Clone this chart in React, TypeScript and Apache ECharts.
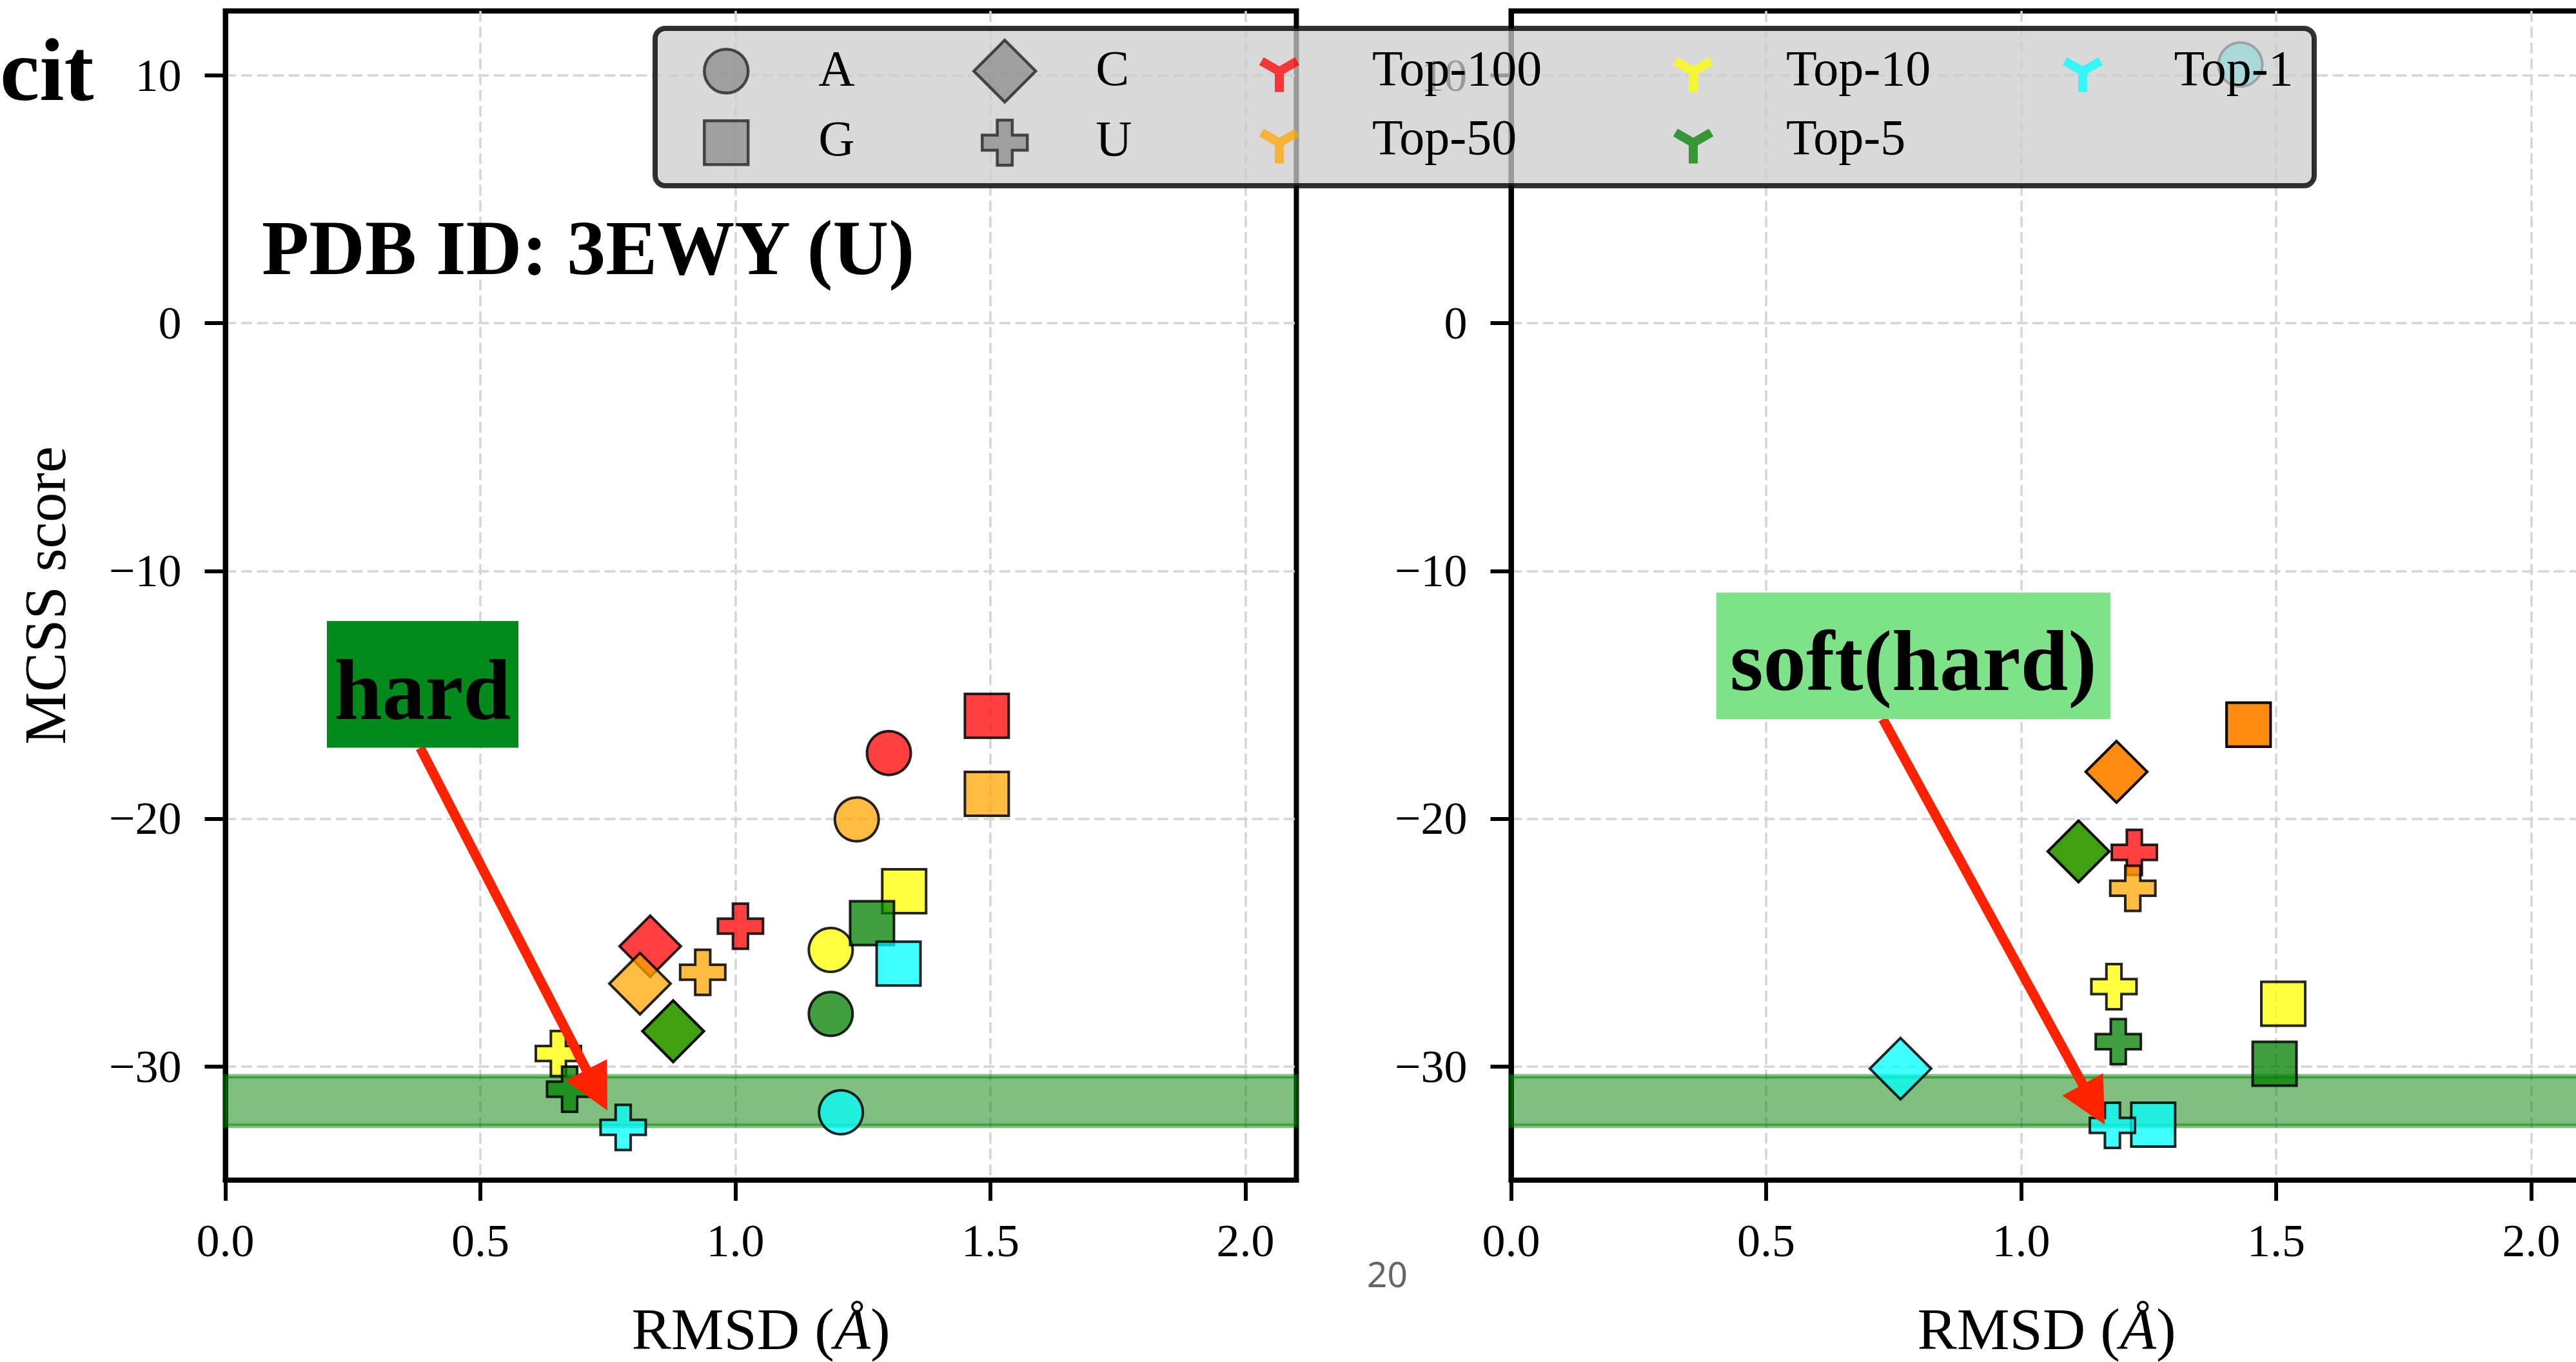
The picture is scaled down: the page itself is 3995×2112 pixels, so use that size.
import React, { useEffect, useRef } from 'react';
import * as echarts from 'echarts';

// ---------------- data ----------------
const BASES = ['A', 'G', 'C', 'U'];
const TOPS = ['Top-100', 'Top-50', 'Top-10', 'Top-5', 'Top-1'];

// Left panel ("hard"): [RMSD, MCSS] for bases A, G, C, U (null = not shown)
const hardTop100 = [[1.301, -17.35], [1.493, -15.85], [0.833, -25.15], [1.01, -24.34]];
const hardTop50 = [[1.238, -20.03], [1.493, -19.0], [0.813, -26.66], [0.936, -26.2]];
const hardTop10 = [[1.187, -25.3], [1.331, -22.93], [0.878, -28.58], [0.653, -29.48]];
const hardTop5 = [[1.187, -27.88], [1.268, -24.22], [0.878, -28.58], [0.675, -30.92]];
const hardTop1 = [[1.207, -31.85], [1.32, -25.85], null, [0.78, -32.46]];

// Right panel ("soft(hard)")
const softTop100 = [null, [1.446, -16.21], [1.187, -18.11], [1.222, -21.36]];
const softTop50 = [null, [1.446, -16.21], [1.187, -18.11], [1.219, -22.81]];
const softTop10 = [null, [1.514, -27.47], [1.1125, -21.32], [1.182, -26.78]];
const softTop5 = [null, [1.497, -29.89], [1.1125, -21.32], [1.1905, -29.0]];
const softTop1 = [[1.43, 10.44], [1.259, -32.35], [0.7635, -30.09], [1.179, -32.38]];

const X_TICKS = [0, 0.5, 1.0, 1.5, 2.0];
const Y_TICKS = [-30, -20, -10, 0, 10];
const X_RANGE = [0, 2.1];
const Y_RANGE = [-34.59, 12.6];
const BAND = [-30.4, -32.4];

const PANEL_TEXT = ['hard', 'soft(hard)'];
// annotation anchors in data coordinates: box [x0, yTop, x1, yBottom], arrow tail, arrow tip
const ANN_BOX = [[0.199, -12.02, 0.5746, -17.14], [0.4021, -10.88, 1.1751, -15.98]];
const ANN_TAIL = [[0.382, -17.14], [0.729, -15.98]];
const ANN_TIP = [[0.749, -31.78], [1.164, -32.35]];

const TITLE = 'PDB ID: 3EWY (U)';

// ---------------- styles ----------------
const SERIF = "'Liberation Serif', 'Times New Roman', Times, serif";
const TOP_COLORS = [
  'rgba(255,0,0,0.75)',
  'rgba(255,165,0,0.75)',
  'rgba(255,255,0,0.75)',
  'rgba(0,128,0,0.75)',
  'rgba(0,255,255,0.75)',
];
const PLUS = 'path://M-1,-3L1,-3L1,-1L3,-1L3,1L1,1L1,3L-1,3L-1,1L-3,1L-3,-1L-1,-1Z';
const BASE_SYMBOL = ['circle', 'rect', 'diamond', PLUS];
const BASE_SIZE = [68, 68, 95, 70];
const ANN_FILL = ['#008a1c', '#7ee288'];
const AXIS_W = 8;

const f2 = (v: number) => v.toFixed(2);
const poly = (pts: number[][], e: number) =>
  'M' + pts.map((q) => f2(q[0]) + ',' + f2(q[1] + e)).join('L') + 'Z';

// legend icon paths; e = empty space added above the visible shape (shifts the shape below the text centre)
function circleIcon(e: number) {
  return { path: `path://M34,0M0,${f2(34 + e)}A34,34 0 1 1 68,${f2(34 + e)}A34,34 0 1 1 0,${f2(34 + e)}Z`, w: 68, h: 68 };
}
function rectIcon(e: number) {
  return { path: 'path://M34,0' + poly([[0, 0], [68, 0], [68, 68], [0, 68]], e), w: 68, h: 68 };
}
function diamondIcon(e: number) {
  return { path: 'path://M48,0' + poly([[48, 0], [96, 48], [48, 96], [0, 48]], e), w: 96, h: 96 };
}
function plusIcon(e: number) {
  const a = 70 / 3;
  return {
    path: 'path://M35,0' + poly([[a, 0], [2 * a, 0], [2 * a, a], [70, a], [70, 2 * a], [2 * a, 2 * a], [2 * a, 70], [a, 70],
      [a, 2 * a], [0, 2 * a], [0, a], [a, a]], e),
    w: 70, h: 70,
  };
}
function yIcon(e: number) {
  const u = 32, t = 7;
  const cx = 0.866 * u + 0.5 * t;
  const cy = 0.5 * u + 0.866 * t;
  const dirs = [[0, 1], [-0.866, -0.5], [0.866, -0.5]];
  let s = 'M' + f2(cx) + ',0';
  dirs.forEach(([dx, dy]) => {
    const nx = -dy, ny = dx;
    s += poly([
      [cx + nx * t, cy + ny * t],
      [cx + nx * t + dx * u, cy + ny * t + dy * u],
      [cx - nx * t + dx * u, cy - ny * t + dy * u],
      [cx - nx * t, cy - ny * t],
    ], e);
  });
  return { path: 'path://' + s, w: 2 * cx, h: cy + u };
}

function legendItem(name: string, mk: (e: number) => any, color: string, border: boolean,
  cx: number, cy: number, textX: number, textCy: number) {
  const e = Math.max(0, 2 * (cy - textCy));
  const icon = mk(e);
  const Ht = icon.h + e;
  const W = 2 * (textX - 5 - cx);
  return {
    show: true,
    orient: 'vertical',
    left: cx - icon.w / 2,
    top: textCy - Ht / 2,
    padding: 0,
    itemWidth: W,
    itemHeight: Ht,
    itemGap: 0,
    selectedMode: false,
    symbolKeepAspect: true,
    z: 4,
    data: [{
      name,
      icon: icon.path,
      itemStyle: border
        ? { color, borderColor: '#262626', borderWidth: 4.5 }
        : { color, borderWidth: 0 },
    }],
    textStyle: { fontFamily: SERIF, fontSize: 78, color: '#000', lineHeight: Ht },
  };
}

function buildLegends() {
  const gray = '#909090';
  const t1 = 103.7, t2 = 212.7;
  return [
    legendItem(BASES[0], circleIcon, gray, true, 1124, 108, 1267, t1),
    legendItem(BASES[1], rectIcon, gray, true, 1124, 219, 1267, t2),
    legendItem(BASES[2], diamondIcon, gray, true, 1556, 108, 1697, t1),
    legendItem(BASES[3], plusIcon, gray, true, 1556, 219, 1697, t2),
    legendItem(TOPS[0], yIcon, TOP_COLORS[0], false, 1984, 113.5, 2128, t1),
    legendItem(TOPS[1], yIcon, TOP_COLORS[1], false, 1984, 226.5, 2128, t2),
    legendItem(TOPS[2], yIcon, TOP_COLORS[2], false, 2626, 113.5, 2770, t1),
    legendItem(TOPS[3], yIcon, TOP_COLORS[3], false, 2626, 226.5, 2770, t2),
    legendItem(TOPS[4], yIcon, TOP_COLORS[4], false, 3230, 113.5, 3371.5, t1),
  ];
}

const minus = (v: number) => (v < 0 ? '\u2212' + Math.abs(v) : String(v));

function xAxis(i: number) {
  return {
    type: 'value', gridIndex: i, min: X_RANGE[0], max: X_RANGE[1],
    axisLine: { show: true, onZero: false, lineStyle: { color: '#000', width: AXIS_W } },
    axisTick: { show: true, inside: false, length: 32, customValues: X_TICKS, lineStyle: { color: '#000', width: 6 } },
    axisLabel: {
      customValues: X_TICKS, margin: 58, fontFamily: SERIF, fontSize: 72, lineHeight: 72, color: '#000',
      formatter: (v: number) => Number(v).toFixed(1),
    },
    splitLine: { show: true, lineStyle: { color: '#d5d5d5', width: 3.5, type: [17, 7.5] } },
    name: 'RMSD ({i|\u00c5})', nameLocation: 'middle', nameGap: 191,
    nameTextStyle: {
      fontFamily: SERIF, fontSize: 92, lineHeight: 80, color: '#000',
      rich: { i: { fontFamily: SERIF, fontSize: 92, lineHeight: 80, fontStyle: 'italic', color: '#000' } },
    },
  };
}

function yAxis(i: number) {
  return {
    type: 'value', gridIndex: i, min: Y_RANGE[0], max: Y_RANGE[1],
    axisLine: { show: true, onZero: false, lineStyle: { color: '#000', width: AXIS_W } },
    axisTick: { show: true, inside: false, length: 32, customValues: Y_TICKS, lineStyle: { color: '#000', width: 6 } },
    axisLabel: {
      customValues: Y_TICKS, margin: 68, fontFamily: SERIF, fontSize: 72, lineHeight: 72, color: '#000',
      formatter: (v: number) => minus(Number(v)),
    },
    splitLine: { show: true, lineStyle: { color: '#d5d5d5', width: 3.5, type: [17, 7.5] } },
    name: i === 0 ? 'MCSS score' : '', nameLocation: 'middle', nameGap: 234, nameMoveOverlap: false,
    nameTextStyle: { fontFamily: SERIF, fontSize: 92, lineHeight: 92, color: '#000' },
  };
}

function buildOption() {
  const panels = [
    [hardTop100, hardTop50, hardTop10, hardTop5, hardTop1],
    [softTop100, softTop50, softTop10, softTop5, softTop1],
  ];
  const series: any[] = [];
  [0, 1].forEach((g) => {
    series.push({
      type: 'scatter', name: 'band' + g, xAxisIndex: g, yAxisIndex: g, data: [], z: 1, silent: true,
      markArea: {
        silent: true, z: 1, label: { show: false },
        itemStyle: { color: 'rgba(0,128,0,0.5)', borderColor: 'rgba(0,128,0,0.5)', borderWidth: 7 },
        emphasis: { disabled: true },
        data: [[{ yAxis: BAND[0] }, { yAxis: BAND[1] }]],
      },
    });
  });
  BASES.forEach((b) => {
    series.push({ type: 'scatter', name: b, xAxisIndex: 0, yAxisIndex: 0, data: [], itemStyle: { color: '#909090' } });
  });
  [0, 1].forEach((g) => {
    panels[g].forEach((arr, k) => {
      const data: any[] = [];
      arr.forEach((p: any, b: number) => {
        if (p) data.push({ value: p, symbol: BASE_SYMBOL[b], symbolSize: BASE_SIZE[b] });
      });
      series.push({
        type: 'scatter', name: TOPS[k], xAxisIndex: g, yAxisIndex: g, z: 2, silent: true,
        itemStyle: { color: TOP_COLORS[k], borderColor: 'rgba(0,0,0,0.85)', borderWidth: 4, opacity: 1 },
        emphasis: { disabled: true },
        data,
      });
    });
  });

  const gridBase = {
    top: 17, height: 1813, width: 1661, show: true, borderColor: '#000', borderWidth: AXIS_W,
    backgroundColor: 'transparent', containLabel: false, outerBoundsMode: 'none',
  };

  return {
    animation: false,
    backgroundColor: '#ffffff',
    title: [
      { text: TITLE, left: 406, top: 324, padding: 0, textStyle: { fontFamily: SERIF, fontWeight: 'bold', fontSize: 120, lineHeight: 120, color: '#000' } },
      { text: 'cit', left: 0, top: 39, padding: 0, textStyle: { fontFamily: SERIF, fontWeight: 'bold', fontSize: 138, lineHeight: 138, color: '#000' } },
      { text: '20', left: 2120, top: 1947, padding: 0, textStyle: { fontFamily: "'Noto Sans', sans-serif", fontWeight: 'normal', fontSize: 55, lineHeight: 55, color: '#666' } },
    ],
    grid: [
      { ...gridBase, left: 349.5 },
      { ...gridBase, left: 2343.5 },
    ],
    xAxis: [xAxis(0), xAxis(1)],
    yAxis: [yAxis(0), yAxis(1)],
    legend: buildLegends(),
    series,
  };
}

function buildGraphics(chart: any) {
  const els: any[] = [];
  els.push({
    type: 'rect', z: 3, silent: true,
    shape: { x: 1016, y: 44, width: 2573, height: 244, r: 16 },
    style: { fill: 'rgba(204,204,204,0.75)', stroke: 'rgba(0,0,0,0.8)', lineWidth: 8 },
  });
  [0, 1].forEach((g) => {
    const px = (p: number[]) => chart.convertToPixel({ xAxisIndex: g, yAxisIndex: g }, p);
    const box = ANN_BOX[g];
    const p0 = px([box[0], box[1]]);
    const p1 = px([box[2], box[3]]);
    const tail = px(ANN_TAIL[g]);
    const tip = px(ANN_TIP[g]);
    const dx = tip[0] - tail[0], dy = tip[1] - tail[1];
    const len = Math.sqrt(dx * dx + dy * dy);
    const ux = dx / len, uy = dy / len;
    const hl = 71, hw = 36;
    const bx = tip[0] - ux * hl, by = tip[1] - uy * hl;
    els.push({
      type: 'line', z: 5, silent: true,
      shape: { x1: tail[0], y1: tail[1], x2: bx + ux * 4, y2: by + uy * 4 },
      style: { stroke: '#ff2200', lineWidth: 15 },
    });
    els.push({
      type: 'polygon', z: 5, silent: true,
      shape: { points: [[tip[0], tip[1]], [bx - uy * hw, by + ux * hw], [bx + uy * hw, by - ux * hw]] },
      style: { fill: '#ff2200' },
    });
    els.push({
      type: 'rect', z: 6, silent: true,
      shape: { x: p0[0], y: p0[1], width: p1[0] - p0[0], height: p1[1] - p0[1] },
      style: { fill: ANN_FILL[g] },
    });
    els.push({
      type: 'text', z: 7, silent: true,
      x: (p0[0] + p1[0]) / 2, y: p1[1] - 90,
      style: {
        text: PANEL_TEXT[g], fontFamily: SERIF, fontWeight: 'bold', fontSize: 133, fill: '#000',
        align: 'center', verticalAlign: 'middle',
      },
    });
  });
  return els;
}

export default function App() {
  const ref = useRef<HTMLDivElement>(null);
  useEffect(() => {
    const chart = echarts.init(ref.current as HTMLDivElement, null, { renderer: 'svg' });
    chart.setOption(buildOption() as any);
    chart.setOption({ graphic: { elements: buildGraphics(chart) } } as any);
    return () => chart.dispose();
  }, []);
  return (
    <div
      ref={ref}
      style={{ position: 'fixed', left: 0, top: 0, width: 3995, height: 2112, background: '#fff' }}
    />
  );
}
